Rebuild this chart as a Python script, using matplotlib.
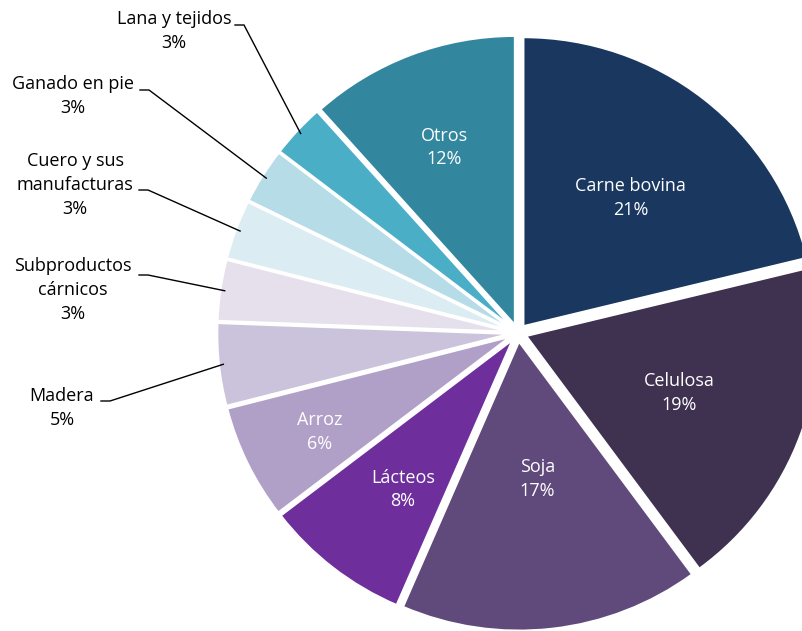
import numpy as np
import matplotlib
matplotlib.use("Agg")
import matplotlib.pyplot as plt

# ---- data ----
categories = ["Carne bovina", "Celulosa", "Soja", "Lácteos", "Arroz", "Madera",
              "Subproductos\ncárnicos", "Cuero y sus\nmanufacturas", "Ganado en pie",
              "Lana y tejidos", "Otros"]
values = [21.2, 18.7, 16.6, 8.1, 6.4, 4.6, 3.4, 3.3, 3.1, 3.0, 11.6]
pct_labels = ["21%", "19%", "17%", "8%", "6%", "5%", "3%", "3%", "3%", "3%", "12%"]
colors = ["#1a385f", "#3f3150", "#5f4a7b", "#6e2f9d", "#b09fc7", "#cbc2dc",
          "#e6e0ec", "#dbedf3", "#b6dce7", "#4aaec7", "#32879e"]

# ---- layout (pixels) ----
W, H = 803, 631
cx, cy = 518, 333       # pie centre in pixels (from top-left)
Rx, Ry = 292, 289       # pie radius in pixels

plt.rcParams['font.family'] = ['Open Sans', 'DejaVu Sans']

fig = plt.figure(figsize=(W / 100, H / 100), dpi=100)
ax = fig.add_axes([0, 0, 1, 1])

wedges, _ = ax.pie(values, colors=colors, startangle=90, counterclock=False,
                   explode=[0.03] * len(values), radius=1, center=(0, 0),
                   wedgeprops=dict(edgecolor="white", linewidth=1.5))
ax.set_aspect("auto")
ax.set_xlim((0 - cx) / Rx, (W - cx) / Rx)
ax.set_ylim((cy - H) / Ry, cy / Ry)
ax.axis("off")


def px(x, y):
    return (x - cx) / Rx, (cy - y) / Ry


def wedge_point(w, r, dth=0.0):
    th = np.deg2rad((w.theta1 + w.theta2) / 2 + dth)
    c = w.center
    return c[0] + r * np.cos(th), c[1] + r * np.sin(th)


fs = 13
ls = 1.42
# inside labels: index -> (radial distance, angle nudge)
inside = {0: (0.575, -1.6), 1: (0.56, -0.5), 2: (0.48, 1.0), 3: (0.64, 2.0),
          4: (0.73, 1.0), 10: (0.66, 0.7)}
for i, (r, dth) in inside.items():
    x, y = wedge_point(wedges[i], r, dth)
    ax.text(x, y, categories[i] + "\n" + pct_labels[i], ha="center", va="center",
            color="white", fontsize=fs, linespacing=ls)

# outside labels: index -> (text centre px, leader start px)
outside = {
    9: ((174, 31), (235, 25)),
    8: ((73, 96), (140, 90)),
    7: ((75, 185), (139, 190)),
    6: ((73, 290), (139, 275)),
    5: ((62, 408), (101, 401)),
}
for i, ((tx, ty), (lx, ly)) in outside.items():
    x, y = px(tx, ty)
    ax.text(x, y, categories[i] + "\n" + pct_labels[i], ha="center", va="center",
            color="black", fontsize=fs, linespacing=ls)
    x0, y0 = px(lx, ly)
    x1, y1 = px(lx + 9, ly)
    x2, y2 = wedge_point(wedges[i], 0.985)
    ax.plot([x0, x1, x2], [y0, y1, y2], color="black", lw=1.0,
            solid_joinstyle="miter")

fig.savefig("out.png", dpi=100)
